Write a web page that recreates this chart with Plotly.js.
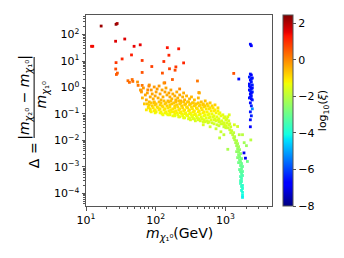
<!DOCTYPE html>
<html><head><meta charset="utf-8">
<script src="https://cdn.plot.ly/plotly-3.0.1.min.js"></script>
<style>html,body{margin:0;padding:0;background:#fff}#chart{width:344px;height:258px}</style>
</head><body><div id="chart"></div>
<script>
// ---- data: neutralino mass (GeV), relative mass splitting Delta, log10(xi) ----
const sparseMass  = [12.0,12.5,16.5,27.0,28.0,26.6,36,49,60,147, 214,155,45,33,27,64,131,252,195,88, 26.7,158,190,28.2,27.3,64,125,174,40,42, 46,47,56,64,135,62,80,77,398,1320, 417,221];
const sparseDelta = [36,36,210,244,262,56,68,36,41,32, 29,16.6,17,12,8.7,10.5,9.6,8.5,6.0,6.2, 5.0,5.1,4.5,3.5,3.1,3.7,3.5,2.0,1.8,1.56, 2.0,1.7,1.2,1.2,1.5,0.76,1.13,0.81,1.76,3.4, 0.64,0.88];
const sparseXi    = [1.4,1.4,2.2,2.3,2.1,1.6,1.6,1.5,1.5,1.3, 1.3,1.1,1.2,1.1,0.9,0.9,1.0,1.1,0.9,0.8, 0.7,0.8,0.7,0.5,0.5,0.6,0.6,0.5,0.3,0.3, 0.3,0.3,0.2,0.2,0.3,0.0,0.1,0.0,0.2,0.6, -0.1,0.0];

const orangeMass  = [54.9,60.5,62.5,66.7,71.1,73.5,75.9,81.0,83.6,86.4, 89.3,92.2,95.3,98.4,101.6,105.0,108.4,112.0,115.7,119.5, 123.5,127.5,131.7,136.1,140.6,145.2,150.0,154.9,160.1,165.3, 170.8,176.4,188.2,194.5,200.9,207.5,221.4,228.7,244.0,252.0, 260.3,277.8,286.9,306.1,326.7,337.4,360.0,384.2,409.9,423.4, 451.8,482.1,514.4,548.9,605.0,645.5,711.5,784.3, 81.0,95.3,68.9,64.5];
const orangeDelta = [1.61,0.805,0.677,0.958,0.522,0.339,0.62,1.24,0.439,0.805, 0.569,0.370,1.045,0.479,0.677,0.878,0.403,1.139,0.569,0.339, 0.805,0.439,1.476,0.677,0.958,0.522,0.311,0.62,0.439,0.805, 0.370,0.569,0.479,0.339,0.677,0.403,0.522,0.311,0.439,0.62, 0.339,0.479,0.285,0.370,0.439,0.262,0.339,0.240,0.403,0.62, 0.285,0.220,0.311,0.240,0.262,0.202,0.220,0.170, 0.285,0.262,0.240,0.403];
const orangeXi    = [-0.1,-0.2,-0.2,-0.2,-0.3,-0.4,-0.3,-0.1,-0.4,-0.2, -0.3,-0.4,-0.2,-0.3,-0.3,-0.2,-0.4,-0.2,-0.3,-0.5, -0.3,-0.4,-0.1,-0.3,-0.3,-0.4,-0.5,-0.3,-0.4,-0.3, -0.5,-0.4,-0.4,-0.5,-0.4,-0.5,-0.4,-0.5,-0.5,-0.4, -0.5,-0.5,-0.6,-0.5,-0.5,-0.6,-0.6,-0.6,-0.5,-0.4, -0.6,-0.7,-0.6,-0.7,-0.7,-0.8,-0.8,-0.9, -0.6,-0.6,-0.7,-0.5];

const bandMass = [
 75.9,78.4,73.5,
 81.0,78.4,83.6,
 86.4,89.3,83.6,86.4,
 95.3,98.4,92.2,95.3,98.4,
 101.6,105.0,98.4,101.6,
 112.0,115.7,108.4,112.0,115.7,
 119.5,123.5,115.7,119.5,123.5,
 131.7,136.1,127.5,131.7,136.1,127.5,
 140.6,145.2,136.1,140.6,145.2,
 154.9,160.1,150.0,154.9,160.1,150.0,
 165.3,170.8,160.1,165.3,170.8,160.1,
 182.2,188.2,176.4,182.2,188.2,176.4,
 194.5,200.9,188.2,194.5,200.9,188.2,
 214.3,221.4,207.5,214.3,221.4,207.5,214.3,
 228.7,236.2,221.4,228.7,236.2,221.4,
 252.0,260.3,244.0,252.0,260.3,244.0,252.0,
 268.9,277.8,260.3,268.9,277.8,260.3,
 296.4,306.1,286.9,296.4,306.1,286.9,296.4,
 316.2,326.7,306.1,316.2,326.7,306.1,316.2,
 348.5,360.0,337.4,348.5,360.0,337.4,348.5,
 371.9,384.2,360.0,371.9,384.2,360.0,371.9,
 409.9,423.4,396.8,409.9,423.4,396.8,409.9,
 437.4,451.8,423.4,437.4,451.8,423.4,437.4,
 482.1,498.0,466.7,482.1,498.0,466.7,482.1,
 514.4,531.4,498.0,514.4,531.4,498.0,514.4,
 567.0,585.7,548.9,567.0,585.7,548.9,567.0,
 605.0,624.9,585.7,605.0,624.9,585.7,
 666.8,688.8,645.5,666.8,688.8,645.5,
 711.5,735.0,688.8,711.5,735.0,688.8,
 784.3,810.1,759.2,784.3,810.1,759.2,
 836.8,864.4,810.1,836.8,864.4,810.1,
 922.3,952.7,892.9,922.3,952.7,
 984.1,1016.6,952.7,984.1,1016.6,
 1050,1120,1157,1085,
 482,605,735,864,953];
const bandDelta = [
 0.240,0.185,0.1426,
 0.220,0.170,0.1308,
 0.262,0.202,0.156,0.1199,
 0.285,0.220,0.170,0.1308,0.1100,
 0.240,0.185,0.1426,0.1199,
 0.285,0.220,0.170,0.1426,0.1100,
 0.262,0.202,0.156,0.1199,0.1009,
 0.311,0.240,0.185,0.1426,0.1100,0.0925,
 0.262,0.202,0.156,0.1199,0.1009,
 0.285,0.220,0.170,0.1308,0.1100,0.0925,
 0.311,0.240,0.185,0.1426,0.1199,0.0925,
 0.262,0.202,0.156,0.1199,0.1009,0.0848,
 0.285,0.220,0.170,0.1308,0.1100,0.0848,
 0.311,0.240,0.185,0.1426,0.1100,0.0925,0.0778,
 0.262,0.202,0.156,0.1199,0.1009,0.0778,
 0.285,0.220,0.170,0.1308,0.1009,0.0848,0.0714,
 0.240,0.185,0.1426,0.1100,0.0925,0.0714,
 0.285,0.220,0.170,0.1308,0.1009,0.0848,0.0654,
 0.240,0.185,0.1426,0.1100,0.0925,0.0714,0.0600,
 0.262,0.202,0.156,0.1199,0.0925,0.0778,0.0654,
 0.220,0.170,0.1308,0.1009,0.0848,0.0654,0.0550,
 0.262,0.202,0.156,0.1199,0.0925,0.0714,0.0600,
 0.220,0.170,0.1308,0.1009,0.0778,0.0654,0.0550,
 0.240,0.185,0.1426,0.1100,0.0848,0.0654,0.0505,
 0.202,0.156,0.1199,0.0925,0.0714,0.0600,0.0505,
 0.202,0.156,0.1199,0.0925,0.0714,0.0550,0.0463,
 0.170,0.1308,0.1009,0.0778,0.0600,0.0505,
 0.170,0.1308,0.1009,0.0778,0.0600,0.0463,
 0.1426,0.1100,0.0848,0.0654,0.0550,0.0424,
 0.1308,0.1009,0.0778,0.0600,0.0505,0.0389,
 0.1100,0.0848,0.0654,0.0505,0.0424,0.0357,
 0.0925,0.0714,0.0550,0.0424,0.0327,
 0.0778,0.0600,0.0463,0.0357,0.0300,
 0.0654,0.0550,0.0424,0.0778,
 0.0389,0.0327,0.0275,0.0212,0.0164];
const bandXi = [
 -0.7,-0.9,-1.1,
 -0.8,-1.0,-1.2,
 -0.7,-0.8,-1.0,-1.2,
 -0.6,-0.8,-1.0,-1.1,-1.3,
 -0.7,-0.9,-1.1,-1.2,
 -0.6,-0.8,-1.0,-1.1,-1.3,
 -0.7,-0.8,-1.0,-1.2,-1.3,
 -0.6,-0.7,-0.9,-1.1,-1.2,-1.3,
 -0.7,-0.8,-1.0,-1.2,-1.3,
 -0.6,-0.8,-1.0,-1.1,-1.2,-1.3,
 -0.6,-0.7,-0.9,-1.1,-1.2,-1.3,
 -0.7,-0.8,-1.0,-1.1,-1.2,-1.3,
 -0.6,-0.8,-0.9,-1.1,-1.2,-1.4,
 -0.6,-0.7,-0.9,-1.0,-1.2,-1.3,-1.4,
 -0.7,-0.8,-1.0,-1.1,-1.2,-1.4,
 -0.6,-0.8,-0.9,-1.1,-1.2,-1.3,-1.4,
 -0.7,-0.9,-1.0,-1.2,-1.3,-1.4,
 -0.7,-0.8,-0.9,-1.1,-1.2,-1.3,-1.5,
 -0.7,-0.9,-1.0,-1.2,-1.3,-1.4,-1.5,
 -0.7,-0.8,-1.0,-1.1,-1.3,-1.4,-1.5,
 -0.8,-0.9,-1.1,-1.2,-1.3,-1.5,-1.6,
 -0.7,-0.8,-1.0,-1.1,-1.3,-1.4,-1.5,
 -0.8,-0.9,-1.1,-1.2,-1.4,-1.5,-1.6,
 -0.7,-0.9,-1.0,-1.2,-1.3,-1.5,-1.6,
 -0.8,-1.0,-1.1,-1.3,-1.4,-1.5,-1.6,
 -0.9,-1.0,-1.2,-1.3,-1.4,-1.6,-1.7,
 -1.0,-1.1,-1.3,-1.4,-1.5,-1.6,
 -1.0,-1.1,-1.3,-1.4,-1.5,-1.7,
 -1.1,-1.2,-1.4,-1.5,-1.6,-1.7,
 -1.2,-1.3,-1.4,-1.5,-1.6,-1.7,
 -1.3,-1.4,-1.5,-1.6,-1.7,-1.8,
 -1.4,-1.5,-1.6,-1.7,-1.8,
 -1.5,-1.6,-1.7,-1.8,-1.8,
 -1.6,-1.6,-1.7,-1.5,
 -1.6,-1.7,-1.8,-1.8,-1.9];

const hookMass  = [952.7,1016.6,1050,1085,1120,1157,1195,1195,1235,1275, 1317,1317,1361,1361,1406,1452,1452,1500,1500,1549, 1549,1600,1549,1600,1653,1600,1653,1708,1653,1708, 1708,1764,1653,1708,1653,1708,1764,1708,1653,1708, 1764,1764,1708,1764,1764,1764, 828,1085,1348,1500,1138,1764,1864,2075,1585,2320, 2009,1452,1500,1549,1600,1764,1653];
const hookDelta = [0.0424,0.0357,0.0463,0.0300,0.0389,0.0253,0.0327,0.0195,0.0232,0.0164, 0.0126,0.0195,0.0106,0.0138,0.0082,0.0097,0.00632,0.00752,0.00488,0.0058, 0.00376,0.00447,0.0029,0.00244,0.00316,0.00188,0.00158,0.00205,0.00112,0.00133, 0.00086,0.00103,0.000666,0.00056,0.00043,0.000363,0.00047,0.00028,0.000236,0.000182, 0.000153,0.000198,0.000129,0.000108,0.0000834,0.0000701, 0.0124,0.0046,0.0389,0.0335,0.0925,0.0164,0.0082,0.0016,0.0164,0.0104, 0.00632,0.00376,0.00224,0.00145,0.00079,0.000666,0.0003];
const hookXi    = [-1.6,-1.6,-1.6,-1.7,-1.6,-1.8,-1.7,-1.9,-1.8,-1.9, -2.0,-1.9,-2.1,-2.0,-2.2,-2.1,-2.3,-2.2,-2.4,-2.3, -2.5,-2.5,-2.6,-2.7,-2.6,-2.8,-2.9,-2.8,-3.0,-3.0, -3.1,-3.1,-3.2,-3.3,-3.4,-3.5,-3.4,-3.6,-3.6,-3.7, -3.8,-3.8,-3.9,-4.0,-4.1,-4.2, -1.9,-2.2,-1.6,-1.7,-1.5,-2.0,-2.3,-2.9,-2.0,-2.0, -2.4,-2.5,-2.7,-2.9,-3.1,-3.2,-3.5];

const blueMass  = [2287,2362,2287,2362,2214,2440,2287,2362,2214,2440, 2287,2362,2214,2440,2287,2362,2214,2440,2287,2362, 2440,2287,2362,2287,2287,1852,1944,1560,2362,2214, 2440,2287,2362,2287,2362];
const blueDelta = [43.2,37.9,3.22,2.95,2.48,2.28,1.91,1.61,1.354,1.24, 1.045,0.878,0.805,0.677,0.569,0.479,0.403,0.339,0.262,0.202, 0.156,0.1199,0.0848,0.0600,0.0327,0.00336,0.00213,2.09,2.08,1.139, 0.958,0.74,0.62,0.439,0.370];
const blueXi    = [-6.6,-6.7,-6.5,-6.7,-6.4,-6.6,-6.7,-6.5,-6.6,-6.4, -6.7,-6.5,-6.6,-6.3,-6.7,-6.5,-6.6,-6.4,-6.6,-6.4, -5.3,-6.5,-6.4,-6.6,-6.7,-7.0,-7.0,-6.6,-6.5,-6.5, -6.6,-6.4,-6.6,-6.5,-6.6];

const xTickVals = [10, 100, 1000];
const xTickText = ['10<sup>1</sup>', '10<sup>2</sup>', '10<sup>3</sup>'];
const yTickVals = [1e-4, 1e-3, 1e-2, 1e-1, 1, 10, 100];
const yTickText = ['10<sup>−4</sup>','10<sup>−3</sup>','10<sup>−2</sup>','10<sup>−1</sup>','10<sup>0</sup>','10<sup>1</sup>','10<sup>2</sup>'];
const cbTicks = [-8, -6, -4, -2, 0, 2];

// ---- styling ----
const FONT = 'DejaVu Sans';
const jet = [[0,'rgb(0,0,128)'],[0.11,'rgb(0,0,255)'],[0.125,'rgb(0,0,255)'],[0.34,'rgb(0,219,255)'],
  [0.35,'rgb(0,229,247)'],[0.375,'rgb(20,255,226)'],[0.64,'rgb(239,255,8)'],[0.65,'rgb(247,245,0)'],
  [0.66,'rgb(255,236,0)'],[0.89,'rgb(255,19,0)'],[0.91,'rgb(232,0,0)'],[1,'rgb(128,0,0)']];
function minorVals(lo, hi){ const v=[]; for(let e=lo;e<=hi;e++) for(let k=2;k<=9;k++) v.push(k*Math.pow(10,e)); return v; }
function tr(x, y, c){
  return {type:'scatter', mode:'markers', x:x, y:y, hoverinfo:'skip', showlegend:false,
    marker:{size:2.8, symbol:'square', color:c, coloraxis:'coloraxis', line:{width:0}}};
}
const data = [tr(sparseMass,sparseDelta,sparseXi), tr(orangeMass,orangeDelta,orangeXi),
  tr(bandMass,bandDelta,bandXi), tr(hookMass,hookDelta,hookXi), tr(blueMass,blueDelta,blueXi)];

const axCommon = {type:'log', showgrid:false, zeroline:false, showline:true, mirror:true,
  linecolor:'#555', linewidth:1, ticks:'outside', ticklen:3.5, tickwidth:1, tickcolor:'#555',
  tickmode:'array', tickfont:{family:FONT, size:11, color:'#000'}};
const L = 86, W = 190, T = 15, H = 191;
const px = v => (v - L) / W, py = v => (T + H - v) / H;
const tfont = {family:FONT, size:14, color:'#000'};

const layout = {
  width:344, height:258, margin:{l:L, r:344-L-W, t:T, b:258-T-H},
  paper_bgcolor:'#fff', plot_bgcolor:'#fff', font:{family:FONT, color:'#000'},
  xaxis: Object.assign({}, axCommon, {range:[1, 3.67], tickvals:xTickVals, ticktext:xTickText,
    minor:{tickmode:'array', tickvals:minorVals(1,3), ticks:'outside', ticklen:2, tickcolor:'#555'}}),
  yaxis: Object.assign({}, axCommon, {range:[-4.48, 2.74], tickvals:yTickVals, ticktext:yTickText,
    minor:{tickmode:'array', tickvals:minorVals(-5,2), ticks:'outside', ticklen:2, tickcolor:'#555'}}),
  coloraxis:{cmin:-8, cmax:2.45, colorscale:jet,
    colorbar:{x:px(287.5), xanchor:'left', xpad:0, ypad:0, y:0.5, yanchor:'middle', len:1, lenmode:'fraction',
      thickness:10, thicknessmode:'pixels', outlinewidth:1, outlinecolor:'#555',
      tickmode:'array', tickvals:cbTicks, ticks:'outside', ticklen:3, tickcolor:'#555',
      tickfont:{family:FONT, size:11, color:'#000'},
      title:{text:'log<sub>10</sub>(<i>ξ</i>)', side:'right', font:{family:FONT, size:11, color:'#000'}}}},
  shapes:[{type:'line', xref:'paper', yref:'paper', x0:px(33), x1:px(33), y0:py(57), y1:py(138),
    line:{color:'#000', width:1}}],
  annotations:[
    {xref:'paper', yref:'paper', x:px(181), y:py(234), xanchor:'center', yanchor:'middle', showarrow:false,
      text:'<i>m</i><sub><i>χ</i>₁⁰</sub>(GeV)', font:tfont},
    {xref:'paper', yref:'paper', x:px(23), y:py(97.5), xanchor:'center', yanchor:'middle', showarrow:false, textangle:-90,
      text:'|<i>m</i><sub><i>χ</i>₂⁰</sub> − <i>m</i><sub><i>χ</i>₁⁰</sub>|', font:tfont},
    {xref:'paper', yref:'paper', x:px(41), y:py(94.5), xanchor:'center', yanchor:'middle', showarrow:false, textangle:-90,
      text:'<i>m</i><sub><i>χ</i>₁⁰</sub>', font:tfont},
    {xref:'paper', yref:'paper', x:px(32.5), y:py(155.5), xanchor:'center', yanchor:'middle', showarrow:false, textangle:-90,
      text:'Δ =', font:tfont}
  ]
};
Plotly.newPlot('chart', data, layout, {staticPlot:true, displayModeBar:false});
</script></body></html>
